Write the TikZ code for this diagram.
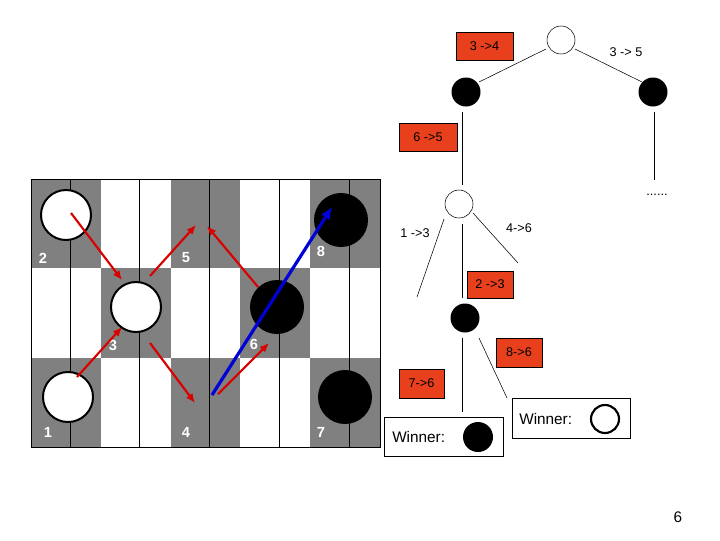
\documentclass[tikz,border=0pt]{standalone}
\usepackage{fontspec}
\setmainfont{Liberation Sans}
\definecolor{boxred}{RGB}{232,64,28}
\definecolor{sq}{RGB}{128,128,128}
\begin{document}
\begin{tikzpicture}[x=0.75pt,y=-0.75pt,
  wp/.style={circle,draw=black,line width=1.5pt,fill=white,minimum size=50*0.75pt,inner sep=0pt},
  bp/.style={circle,fill=black,minimum size=54*0.75pt,inner sep=0pt},
  num/.style={text=white,font=\bfseries\fontsize{11}{11}\selectfont,inner sep=0pt},
  tw/.style={circle,draw=black,thin,fill=white,minimum size=28*0.75pt,inner sep=0pt},
  tb/.style={circle,fill=black,minimum size=29*0.75pt,inner sep=0pt},
  rbox/.style={draw=black,thin,fill=boxred,font=\fontsize{9.5}{10}\selectfont,inner sep=0pt},
  lab/.style={font=\fontsize{9.5}{10}\selectfont,inner sep=0pt},
  wbox/.style={draw=black,thin,fill=white,inner sep=0pt},
  ra/.style={draw=red!85!black,line width=1.6pt,-{Latex[length=7pt,width=6pt]}},
  edge/.style={draw=black,thin}]
\usetikzlibrary{arrows.meta}
\useasboundingbox (0,0) rectangle (720,540);
% board
\foreach \c/\r in {0/0,2/0,4/0,1/1,3/1,0/2,2/2,4/2}{
  \fill[sq] ({31+\c*69.8},{179+\r*89.3}) rectangle ++(69.8,89.3);}
\draw[black,thin] (31,179) grid[xstep=69.8,ystep=89.3] (380,447);
\draw[black,thin] (31,179) rectangle (380,447);
\node[wp] (p2) at (66,215) {};
\node[wp] (p3) at (136,307) {};
\node[wp] (p1) at (68,397) {};
\node[bp] (p8) at (341,220) {};
\node[bp] (p6) at (277,307) {};
\node[bp] (p7) at (345,397) {};
\node[num] (n2) at (43,258) {2};
\node[num] (n5) at (186,258) {5};
\node[num] (n8) at (321,251) {8};
\node[num] (n3) at (113,345) {3};
\node[num] (n6) at (254,344) {6};
\node[num] (n1) at (48,432) {1};
\node[num] (n4) at (186,432) {4};
\node[num] (n7) at (321,432) {7};
\coordinate (a1s) at (71,213); \coordinate (a1e) at (122,280);
\coordinate (a2s) at (77,377); \coordinate (a2e) at (122,327);
\coordinate (a3s) at (150,276); \coordinate (a3e) at (196,225);
\coordinate (a4s) at (150,343); \coordinate (a4e) at (195,403);
\coordinate (a5s) at (258,287); \coordinate (a5e) at (207,226);
\coordinate (a6s) at (218,394); \coordinate (a6e) at (269,343);
\coordinate (bs) at (212,395); \coordinate (be) at (332,207);
\foreach \k in {1,...,6}{\draw[ra] (a\k s) -- (a\k e);}
\draw[blue!85!black,line width=2.4pt,-{Latex[length=9pt,width=8pt]}] (bs) -- (be);
% tree
\node[tw] (root) at (561,40) {};
\node[tb] (L) at (466,92) {};
\node[tb] (R) at (653,92) {};
\draw[edge] (546,49) -- (479,82);
\draw[edge] (575,49) -- (642,82);
\node[rbox,minimum width=57*0.75pt,minimum height=28*0.75pt] (b34) at (484.5,46) {3 ->4};
\node[lab] (l35) at (626,52) {3 -> 5};
\coordinate (Lv1) at (462,112); \coordinate (Lv2) at (462,185);
\draw[edge] (Lv1) -- (Lv2);
\node[rbox,minimum width=58*0.75pt,minimum height=28*0.75pt] (b65) at (428,137) {6 ->5};
\coordinate (Rv1) at (654,112); \coordinate (Rv2) at (654,180);
\draw[edge] (Rv1) -- (Rv2);
\node[lab] (dots) at (657,195) {......};
\node[tw] (M) at (459,204) {};
\draw[edge] (444,219) -- (417,297);
\draw[edge] (462,224) -- (462,298);
\draw[edge] (473,213) -- (518,263);
\node[lab] (l13) at (415,233) {1 ->3};
\node[lab] (l46) at (519,228) {4->6};
\node[rbox,minimum width=46*0.75pt,minimum height=27*0.75pt] (b23) at (490,284.5) {2 ->3};
\node[tb] (B) at (465,318) {};
\draw[edge] (462,338) -- (462,412);
\draw[edge] (479,338) -- (507,398);
\node[rbox,minimum width=46*0.75pt,minimum height=29*0.75pt] (b86) at (519,352.5) {8->6};
\node[rbox,minimum width=45*0.75pt,minimum height=29*0.75pt] (b76) at (421.5,383.5) {7->6};
\node[wbox,minimum width=119*0.75pt,minimum height=39*0.75pt] (wl) at (443.5,436.5) {};
\node[lab,font=\fontsize{11.5}{12}\selectfont,anchor=west] (wlt) at (392,437) {Winner:};
\node[circle,fill=black,minimum size=30*0.75pt,inner sep=0pt] (wlc) at (478,437) {};
\node[wbox,minimum width=118*0.75pt,minimum height=40*0.75pt] (wr) at (571,418) {};
\node[lab,font=\fontsize{11.5}{12}\selectfont,anchor=west] (wrt) at (519,419) {Winner:};
\node[circle,draw=black,line width=1.6pt,fill=white,minimum size=28*0.75pt,inner sep=0pt] (wrc) at (605,419) {};
\node[font=\fontsize{11.5}{12}\selectfont] (pg) at (678,517) {6};
\end{tikzpicture}
\end{document}
